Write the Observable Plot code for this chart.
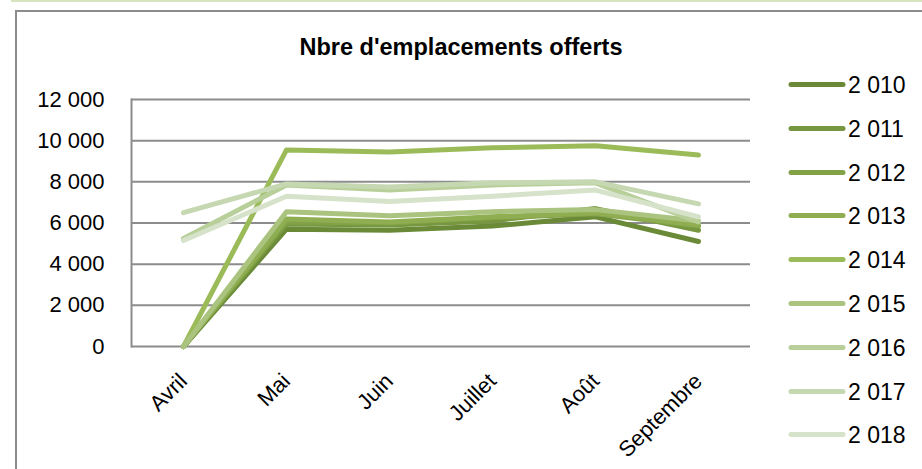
<!DOCTYPE html>
<html>
<head>
<meta charset="utf-8">
<script src="https://cdn.jsdelivr.net/npm/d3@7"></script>
<script src="https://cdn.jsdelivr.net/npm/@observablehq/plot@0.6"></script>
<style>
  html, body { margin: 0; padding: 0; background: #fff; }
  #wrap { position: relative; width: 922px; height: 469px; overflow: hidden; font-family: "Liberation Sans", Arial, sans-serif; }
  #topline { position: absolute; left: 11px; top: 0; width: 911px; height: 2px; background: #d7e4bd; }
  #border { position: absolute; left: 15px; top: 10px; width: 940px; height: 500px; border-left: 2px solid #8c8c8c; border-top: 2px solid #8c8c8c; box-sizing: border-box; }
  #title { position: absolute; left: 0; width: 922px; top: 34px; text-align: center; font-weight: bold; font-size: 23.5px; color: #000; }
  #legend { position: absolute; left: 788px; top: 70px; }
  .item { position: absolute; left: 0; height: 30px; width: 140px; }
  .item svg { position: absolute; left: 0; top: 0; }
  .item span { position: absolute; left: 60px; top: 0px; font-size: 23px; line-height: 30px; color: #000; white-space: nowrap; }
  #chart { position: absolute; left: 0; top: 0; }
</style>
</head>
<body>
<div id="wrap">
  <div id="topline"></div>
  <div id="border"></div>
  <div id="chart"></div>
  <div id="title">Nbre d'emplacements offerts</div>
  <div id="legend"></div>
</div>
<script>
const months = ["Avril", "Mai", "Juin", "Juillet", "Août", "Septembre"];
const years = ["2 010", "2 011", "2 012", "2 013", "2 014", "2 015", "2 016", "2 017", "2 018"];
const colors = ["#6a8a37", "#76963f", "#83a248", "#8fae51", "#9bbb59", "#aac47f", "#b8cf9a", "#c6d8b2", "#d6e2c9"];
const v2010 = [0, 5700, 5650, 5850, 6300, 5100];
const v2011 = [0, 5950, 5900, 6100, 6700, 5650];
const v2012 = [0, 6050, 6000, 6250, 6450, 5850];
const v2013 = [0, 6200, 6050, 6300, 6500, 5900];
const v2014 = [0, 9550, 9450, 9650, 9750, 9300];
const v2015 = [0, 6550, 6350, 6550, 6650, 6100];
const v2016 = [5250, 7850, 7600, 7850, 7950, 6050];
const v2017 = [6500, 7900, 7750, 7950, 8000, 6930];
const v2018 = [5150, 7300, 7050, 7300, 7600, 6300];
const yTicks = [0, 2000, 4000, 6000, 8000, 10000, 12000];

const seriesValues = [v2010, v2011, v2012, v2013, v2014, v2015, v2016, v2017, v2018];
const data = [];
seriesValues.forEach((vals, i) => {
  vals.forEach((v, j) => data.push({year: years[i], month: months[j], value: v}));
});

const fmt = d => d3.format(",")(d).replace(/,/g, " ");

const chart = Plot.plot({
  width: 922,
  height: 469,
  marginLeft: 131,
  marginRight: 172,
  marginTop: 99,
  marginBottom: 123,
  style: {fontFamily: "'Liberation Sans', Arial, sans-serif", background: "transparent", color: "#000"},
  x: {type: "point", domain: months, padding: 0.5, label: null},
  y: {domain: [0, 12000], label: null},
  color: {domain: years, range: colors},
  marks: [
    Plot.gridY(yTicks, {stroke: "#8c8c8c", strokeOpacity: 1, strokeWidth: 2}),
    Plot.frame({anchor: "left", stroke: "#8c8c8c", strokeWidth: 2}),
    Plot.axisY(yTicks, {tickSize: 0, tickPadding: 27, fontSize: 22, tickFormat: fmt}),
    Plot.axisX({tickSize: 0, tickRotate: -45, fontSize: 22, tickPadding: 31, dx: 0}),
    Plot.lineY(data, {x: "month", y: "value", z: "year", stroke: "year", strokeWidth: 5, strokeLinecap: "round", strokeLinejoin: "round"})
  ]
});
document.getElementById("chart").appendChild(chart);

const legend = document.getElementById("legend");
years.forEach((y, i) => {
  const item = document.createElement("div");
  item.className = "item";
  item.style.top = (i * 43.8) + "px";
  item.innerHTML = `<svg width="60" height="30"><line x1="3" y1="14.5" x2="55" y2="14.5" stroke="${colors[i]}" stroke-width="5" stroke-linecap="round"/></svg><span>${y}</span>`;
  legend.appendChild(item);
});
</script>
</body>
</html>
